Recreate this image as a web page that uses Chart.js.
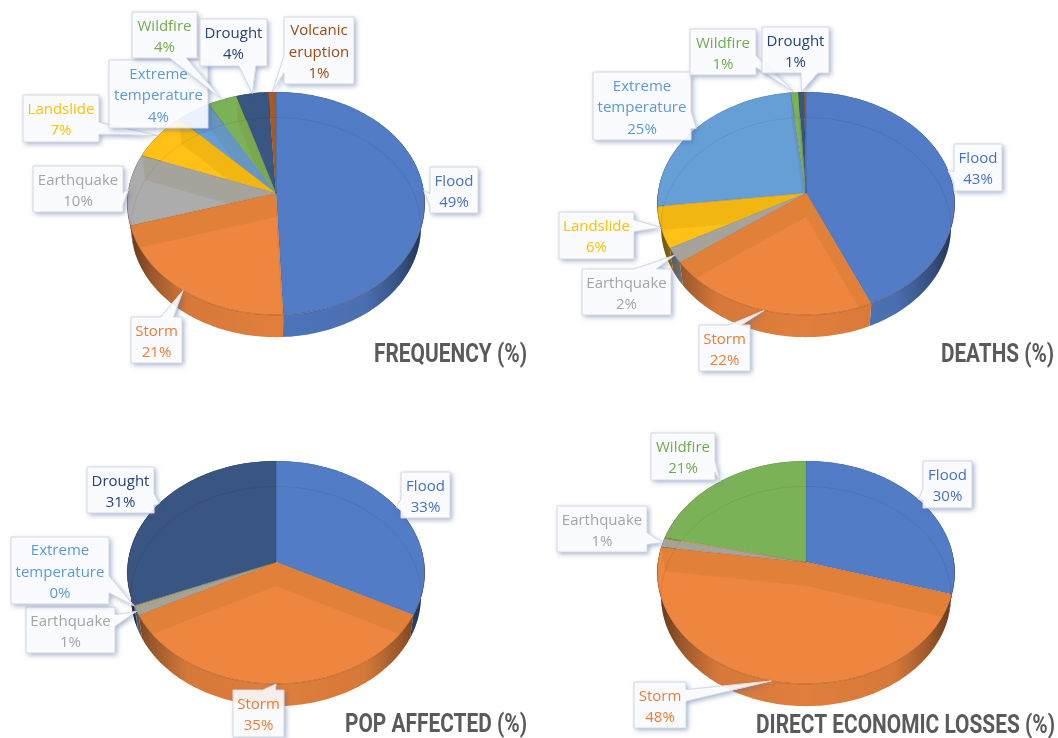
<!DOCTYPE html>
<html>
<head>
<meta charset="utf-8">
<title>Disasters</title>
<script src="https://cdn.jsdelivr.net/npm/chart.js@4/dist/chart.umd.min.js"></script>
<style>
  html, body { margin: 0; padding: 0; background: #fff; }
  body { position: relative; width: 1058px; height: 738px; overflow: hidden; }
  canvas { position: absolute; }
</style>
</head>
<body>
<canvas id="c0" width="530" height="380" style="left:0;top:0"></canvas>
<canvas id="c1" width="528" height="380" style="left:530px;top:0"></canvas>
<canvas id="c2" width="530" height="369" style="left:0;top:369px"></canvas>
<canvas id="c3" width="528" height="369" style="left:530px;top:369px"></canvas>
<script>
// Data (slice sizes estimated from the drawn angles)
const categories = ['Flood', 'Storm', 'Earthquake', 'Landslide', 'Extreme temperature', 'Wildfire', 'Drought', 'Volcanic eruption'];
const frequency = [49.3, 21.1, 10.3, 7, 4.1, 3.5, 3.8, 0.9];
const deaths = [43.4, 21.5, 2.2, 6, 25.1, 0.9, 0.7, 0.2];
const popAffected = [32.6, 34.8, 1.1, 0.15, 0.15, 0, 31.2, 0];
const economicLosses = [29.6, 47.6, 1.3, 0.1, 0, 21.4, 0, 0];
const titles = ['FREQUENCY (%)', 'DEATHS (%)', 'POP AFFECTED (%)', 'DIRECT ECONOMIC LOSSES (%)'];

const textColors = ['#4472C4', '#ED7D31', '#A5A5A5', '#FFC000', '#5B9BD5', '#70AD47', '#264478', '#9E480E'];
const faceColors = ['#527CC5', '#EE8640', '#ACACAC', '#FFC115', '#659FD6', '#7BB258', '#395582', '#A75A24'];

// Callout boxes [left, top, right, bottom] by category index
const boxes = [
  { 0: [430, 167, 478, 213], 1: [131, 317, 182, 363], 2: [33, 166, 123, 212], 3: [23, 95, 99, 142],
    4: [109, 60, 208, 128], 5: [132, 12, 197, 58], 6: [200, 19, 267, 66], 7: [284, 17, 354, 84] },
  { 0: [424, 144, 472, 191], 1: [169, 325, 220, 371], 2: [52, 269, 141, 315], 3: [29, 212, 104, 259],
    4: [63, 72, 161, 140], 5: [160, 29, 226, 75], 6: [232, 27, 299, 73] },
  { 0: [401, 103, 450, 149], 1: [233, 321, 284, 368], 2: [26, 238, 115, 284], 4: [11, 168, 109, 235], 6: [87, 98, 154, 144] },
  { 0: [393, 92, 442, 139], 1: [104, 313, 156, 359], 2: [27, 137, 117, 183], 5: [121, 64, 185, 111] }
];
const titleBaselines = [362, 362, 363, 364];
const titleRights = [527, 524, 527, 525];
const titleWidths = [153, 113, 182, 299];

// Shape of the tilted pie
const squash = 0.7466, tilt = 0.094, depth = 24, bottomScale = 0.975;

function project(arc, angle, r, level) {
  const u = r * Math.cos(angle), v = r * Math.sin(angle);
  const w = 1 - tilt * v, R = arc.outerRadius;
  if (level === 1) {
    return [arc.x + bottomScale * R * u / w, arc.y + depth + 0.985 * squash * R * v / w];
  }
  return [arc.x + R * u / w, arc.y + squash * R * v / w];
}

function arcPoints(arc, level, from = arc.startAngle, to = arc.endAngle) {
  const pts = [];
  const n = Math.max(2, Math.ceil((to - from) / 0.02));
  for (let i = 0; i <= n; i++) pts.push(project(arc, from + (to - from) * i / n, 1, level));
  return pts;
}

function tracePoly(ctx, pts) {
  ctx.beginPath();
  pts.forEach((p, i) => i ? ctx.lineTo(p[0], p[1]) : ctx.moveTo(p[0], p[1]));
  ctx.closePath();
}

function drawRim(ctx, arc, color) {
  const pts = arcPoints(arc, 0).concat(arcPoints(arc, 1).reverse());
  tracePoly(ctx, pts);
  ctx.fillStyle = color;
  ctx.fill();
  const g = ctx.createLinearGradient(arc.x - arc.outerRadius, 0, arc.x + arc.outerRadius, 0);
  g.addColorStop(0, 'rgba(0,0,0,0.6)');
  g.addColorStop(0.08, 'rgba(0,0,0,0.35)');
  g.addColorStop(0.2, 'rgba(0,0,0,0.1)');
  g.addColorStop(0.5, 'rgba(0,0,0,0.06)');
  g.addColorStop(0.8, 'rgba(0,0,0,0.1)');
  g.addColorStop(0.92, 'rgba(0,0,0,0.35)');
  g.addColorStop(1, 'rgba(0,0,0,0.6)');
  ctx.fillStyle = g;
  ctx.fill();
}

function drawFace(ctx, arc, color) {
  const pts = [[arc.x, arc.y]].concat(arcPoints(arc, 0));
  tracePoly(ctx, pts);
  ctx.fillStyle = color;
  ctx.fill();

  // the radial walls show through the top face
  ctx.save();
  ctx.clip();
  [arc.startAngle, arc.endAngle].forEach(a => {
    const t = project(arc, a, 1, 0), b = project(arc, a, 1, 1);
    tracePoly(ctx, [[arc.x, arc.y], t, b, [arc.x, arc.y + depth]]);
    ctx.fillStyle = 'rgba(120,90,0,0.1)';
    ctx.fill();
  });
  ctx.restore();

  tracePoly(ctx, pts);
  ctx.strokeStyle = 'rgba(0,0,0,0.12)';
  ctx.lineWidth = 0.7;
  ctx.stroke();

  // darker line along the near edge only
  const from = Math.max(arc.startAngle, 0), to = Math.min(arc.endAngle, Math.PI);
  if (to > from) {
    ctx.beginPath();
    arcPoints(arc, 0, from, to).forEach((p, i) => i ? ctx.lineTo(p[0], p[1]) : ctx.moveTo(p[0], p[1]));
    ctx.strokeStyle = 'rgba(120,40,0,0.3)';
    ctx.lineWidth = 0.8;
    ctx.stroke();
  }
}

function drawCallout(ctx, box, tip, color, lines) {
  const [x0, y0, x1, y1] = box;
  const w = x1 - x0, h = y1 - y0, cx = x0 + w / 2, cy = y0 + h / 2;
  const dx = (tip[0] - cx) / w, dy = (tip[1] - cy) / h;
  const a = dx > 0 ? 7 / 12 : 2 / 12, b = dx > 0 ? 10 / 12 : 5 / 12;
  const c = dy > 0 ? 7 / 12 : 2 / 12, d = dy > 0 ? 10 / 12 : 5 / 12;
  // a tip under the box gets no tail
  const tail = Math.abs(dx) > 0.5 || Math.abs(dy) > 0.5;

  const shape = new Path2D();
  shape.moveTo(x0, y0);
  if (tail && Math.abs(dy) >= Math.abs(dx) && dy < 0) { shape.lineTo(x0 + w * a, y0); shape.lineTo(tip[0], tip[1]); shape.lineTo(x0 + w * b, y0); }
  shape.lineTo(x1, y0);
  if (tail && Math.abs(dx) > Math.abs(dy) && dx > 0) { shape.lineTo(x1, y0 + h * c); shape.lineTo(tip[0], tip[1]); shape.lineTo(x1, y0 + h * d); }
  shape.lineTo(x1, y1);
  if (tail && Math.abs(dy) >= Math.abs(dx) && dy > 0) { shape.lineTo(x0 + w * b, y1); shape.lineTo(tip[0], tip[1]); shape.lineTo(x0 + w * a, y1); }
  shape.lineTo(x0, y1);
  if (tail && Math.abs(dx) > Math.abs(dy) && dx < 0) { shape.lineTo(x0, y0 + h * d); shape.lineTo(tip[0], tip[1]); shape.lineTo(x0, y0 + h * c); }
  shape.closePath();

  // shadow only outside the box, so the box stays pale
  const outside = new Path2D();
  outside.rect(0, 0, ctx.canvas.width, ctx.canvas.height);
  outside.addPath(shape);
  ctx.save();
  ctx.clip(outside, 'evenodd');
  ctx.shadowColor = 'rgba(70,95,160,0.5)';
  ctx.shadowBlur = 5;
  ctx.shadowOffsetX = 2;
  ctx.shadowOffsetY = 2;
  ctx.fillStyle = '#fff';
  ctx.fill(shape);
  ctx.restore();

  ctx.fillStyle = 'rgba(249,251,254,0.9)';
  ctx.fill(shape);
  ctx.strokeStyle = '#D6D9DE';
  ctx.lineWidth = 1;
  ctx.stroke(shape);

  ctx.fillStyle = color;
  ctx.font = '15px "Open Sans"';
  ctx.textAlign = 'center';
  ctx.textBaseline = 'middle';
  const pitch = 21.3;
  lines.forEach((line, i) => {
    ctx.fillText(line, cx, cy + 2 + (i - (lines.length - 1) / 2) * pitch);
  });
}

const pie3d = {
  id: 'pie3d',
  beforeDatasetsDraw(chart) {
    const ctx = chart.ctx, arcs = chart.getDatasetMeta(0).data;
    const first = arcs[0];
    const colors = chart.data.datasets[0].backgroundColor;
    ctx.save();
    arcs.forEach((arc, i) => { if (arc.endAngle > arc.startAngle) drawRim(ctx, arc, colors[i]); });
    arcs.forEach((arc, i) => { if (arc.endAngle > arc.startAngle) drawFace(ctx, arc, colors[i]); });

    // outline of the far face, seen through the top
    const whole = { x: first.x, y: first.y, outerRadius: first.outerRadius };
    tracePoly(ctx, arcPoints(whole, 0, 0, Math.PI * 2));
    ctx.clip();
    tracePoly(ctx, arcPoints(whole, 1, 0, Math.PI * 2));
    ctx.strokeStyle = 'rgba(0,0,0,0.09)';
    ctx.lineWidth = 0.8;
    ctx.stroke();
    ctx.restore();
    return false;
  },
  afterDraw(chart) {
    const ctx = chart.ctx, idx = chart.options.plugins.pie3d.index;
    const arcs = chart.getDatasetMeta(0).data;
    const values = chart.data.datasets[0].data;
    Object.keys(boxes[idx]).forEach(key => {
      const i = Number(key), arc = arcs[i];
      const tip = project(arc, (arc.startAngle + arc.endAngle) / 2, 1, 0);
      const lines = categories[i].split(' ').concat(Math.round(values[i]) + '%');
      drawCallout(ctx, boxes[idx][i], tip, textColors[i], lines);
    });
    ctx.fillStyle = '#5A5A5A';
    ctx.font = 'bold 26px Roboto';
    ctx.textAlign = 'right';
    ctx.textBaseline = 'alphabetic';
    ctx.fillText(titles[idx], titleRights[idx], titleBaselines[idx], titleWidths[idx]);
  }
};

[frequency, deaths, popAffected, economicLosses].forEach((values, index) => {
  const canvas = document.getElementById('c' + index);
  new Chart(canvas.getContext('2d'), {
    type: 'pie',
    data: {
      labels: categories,
      datasets: [{ data: values, backgroundColor: faceColors, borderWidth: 0 }]
    },
    options: {
      responsive: false,
      animation: false,
      layout: { padding: { left: 128, right: canvas.width - 424, top: 45, bottom: canvas.height - 341 } },
      plugins: {
        legend: { display: false },
        tooltip: { enabled: false },
        pie3d: { index: index }
      }
    },
    plugins: [pie3d]
  });
});
</script>
</body>
</html>
